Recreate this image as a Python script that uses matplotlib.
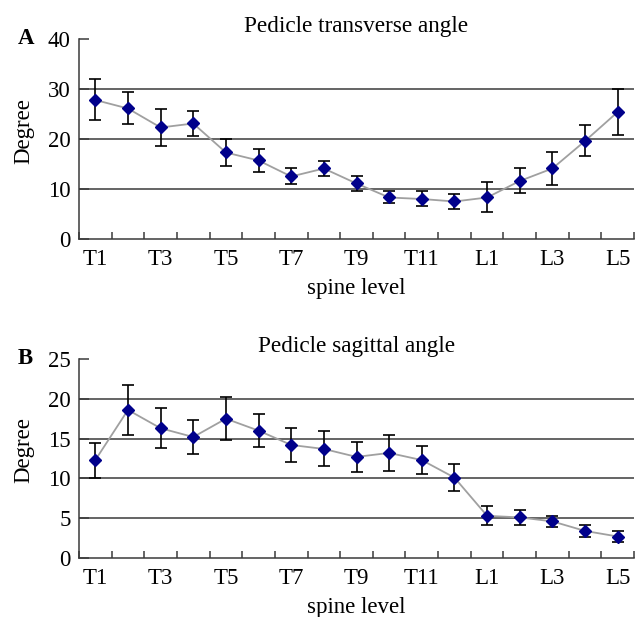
import numpy as np
from matplotlib import pyplot as plt

# spine levels, only every other one gets a label on the axis
levels = ["T1", "T2", "T3", "T4", "T5", "T6", "T7", "T8", "T9", "T10", "T11", "T12",
          "L1", "L2", "L3", "L4", "L5"]
tick_labels = [lv if i % 2 == 0 else "" for i, lv in enumerate(levels)]

# pedicle transverse angle, mean and SD (degree)
transverse_mean = [27.8, 26.1, 22.3, 23.1, 17.3, 15.7, 12.5, 14.1, 11.1, 8.3, 8.0, 7.5,
                   8.3, 11.6, 14.1, 19.6, 25.4]
transverse_sd = [4.1, 3.2, 3.7, 2.5, 2.7, 2.3, 1.6, 1.5, 1.5, 1.2, 1.5, 1.5,
                 3.0, 2.5, 3.3, 3.1, 4.6]

# pedicle sagittal angle, mean and SD (degree)
sagittal_mean = [12.3, 18.6, 16.3, 15.2, 17.5, 16.0, 14.2, 13.7, 12.7, 13.2, 12.3, 10.1,
                 5.3, 5.1, 4.6, 3.4, 2.7]
sagittal_sd = [2.2, 3.1, 2.5, 2.1, 2.7, 2.1, 2.1, 2.2, 1.9, 2.3, 1.8, 1.7,
               1.2, 0.9, 0.7, 0.75, 0.7]

plt.rcParams["font.family"] = ["Liberation Serif", "DejaVu Serif"]
plt.rcParams["font.size"] = 16.5

fig = plt.figure(figsize=(6.35, 6.17), dpi=100)
W, H = 635.0, 617.0


def panel(box, mean, sd, ymax, ystep, title, letter):
    """Draws one Excel-style line chart with error bars"""
    left, top, right, bottom = box
    ax = fig.add_axes([left / W, 1 - bottom / H, (right - left) / W, (bottom - top) / H])
    x = np.arange(1, len(levels) + 1)

    # horizontal gridlines, skip the top value and zero
    for g in np.arange(ystep, ymax, ystep):
        ax.axhline(g, color="#3a3a3a", lw=1.1, zorder=1)

    ax.errorbar(x, mean, yerr=sd, fmt="none", ecolor="black", elinewidth=1.2,
                capsize=4, capthick=1.2, zorder=2)
    ax.plot(x, mean, color="#a0a0a0", lw=1.3, zorder=3)
    ax.plot(x, mean, linestyle="none", marker="D", markersize=6.5,
            color="#00008b", zorder=4)

    ax.set_xlim(0.5, len(levels) + 0.5)
    ax.set_ylim(0, ymax)
    ax.set_yticks(np.arange(0, ymax + 0.1, ystep))

    # category boundaries get the tick marks, centres get the labels
    ax.set_xticks(np.arange(0.5, len(levels) + 1, 1.0))
    ax.set_xticklabels([])
    ax.set_xticks(x, minor=True)
    ax.set_xticklabels(tick_labels, minor=True)
    ax.tick_params(axis="x", which="major", direction="in", length=5, width=1.1,
                   color="#3a3a3a")
    ax.tick_params(axis="x", which="minor", length=0, pad=7)
    ax.tick_params(axis="y", direction="in", length=7, width=1.1, color="#3a3a3a", pad=6)

    for s in ["top", "right"]:
        ax.spines[s].set_visible(False)
    for s in ["left", "bottom"]:
        ax.spines[s].set_color("#3a3a3a")
        ax.spines[s].set_linewidth(1.1)

    ax.set_title(title, fontsize=16.7, pad=5)
    ax.set_xlabel("spine level", labelpad=6)
    ax.set_ylabel("Degree")
    ax.yaxis.set_label_coords(-45 / (right - left), 0.54)
    fig.text(18 / W, 1 - (top - 1) / H, letter, fontweight="bold",
             ha="left", va="center")
    return ax


panel((79, 39, 634, 239), transverse_mean, transverse_sd, 40, 10,
      "Pedicle transverse angle", "A")
panel((79, 359, 634, 558), sagittal_mean, sagittal_sd, 25, 5,
      "Pedicle sagittal angle", "B")

fig.savefig("out.png", dpi=100)
